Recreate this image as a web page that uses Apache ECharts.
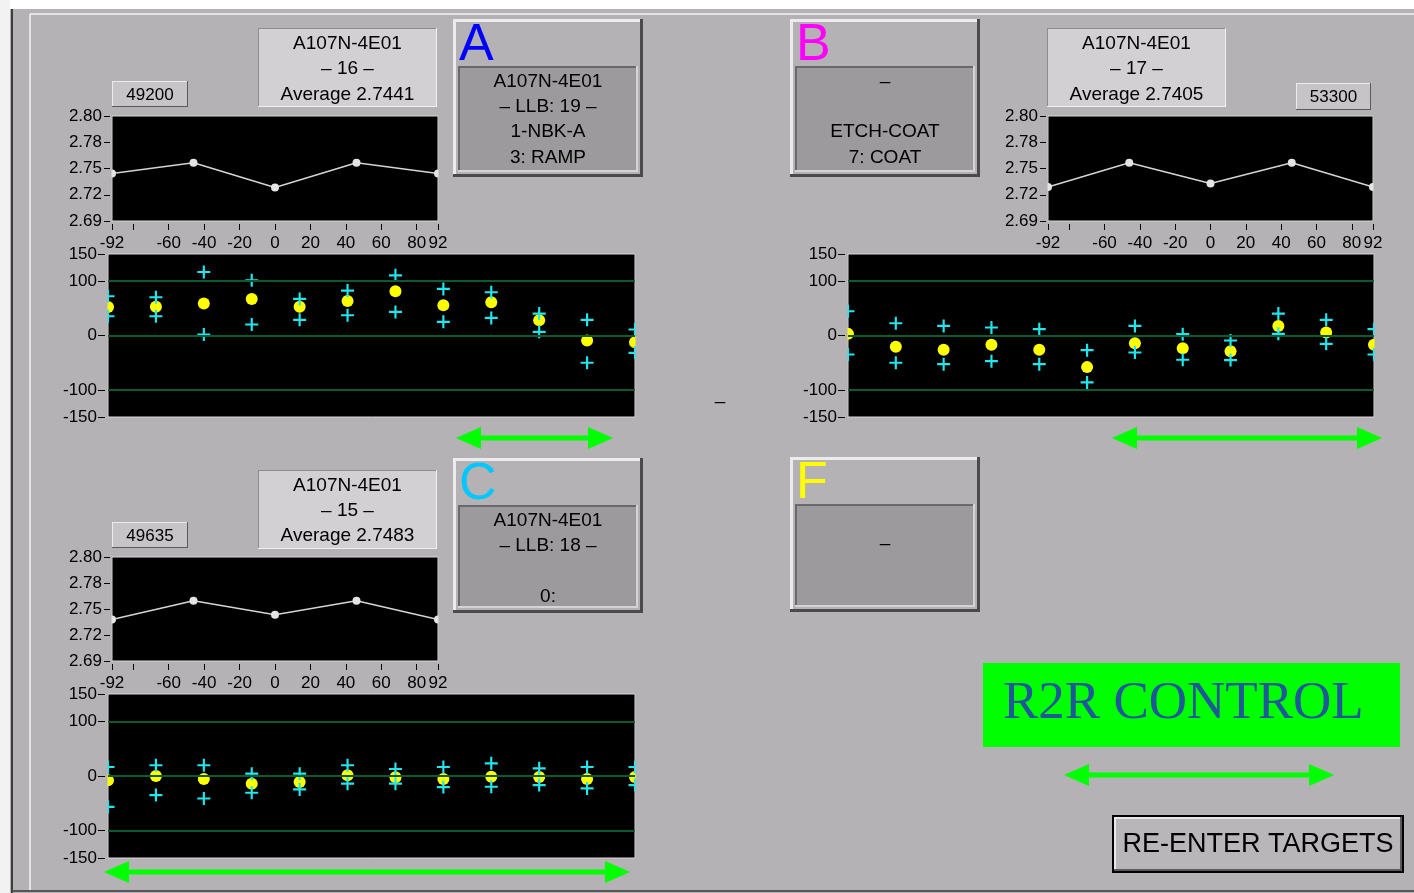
<!DOCTYPE html>
<html><head><meta charset="utf-8">
<script src="https://cdn.jsdelivr.net/npm/echarts@6/dist/echarts.min.js"></script>
<style>html,body{margin:0;padding:0;background:#b4b2b4;overflow:hidden}#c{width:1414px;height:893px}</style>
</head><body><div id="c"></div>
<script>
// ---------- data ----------
const lineX = [-92, -46, 0, 46, 92];
const lineA = [2.7398, 2.7510, 2.7251, 2.7510, 2.7398];
const lineB = [2.7257, 2.7510, 2.7293, 2.7510, 2.7257];
const lineC = [2.7340, 2.7538, 2.7389, 2.7538, 2.7340];

const lineYTicks = [2.69, 2.7175, 2.745, 2.7725, 2.80];
const lineYLabels = ['2.69', '2.72', '2.75', '2.78', '2.80'];
const lineXTicks = [-92, -80, -60, -40, -20, 0, 20, 40, 60, 80, 92];
const lineXLabels = ['-92', '', '-60', '-40', '-20', '0', '20', '40', '60', '80', '92'];

const runIndex = [1, 2, 3, 4, 5, 6, 7, 8, 9, 10, 11, 12];
const meanA  = [52.6, 53, 58.8, 67.3, 53, 63.7, 81.4, 55.7, 61.2, 28.1, -9.2, -12.3];
const upperA = [72.2, 70.4, 116.9, 101.6, 67.3, 82.6, 110.8, 85.7, 79.6, 40.4, 28.8, 11];
const lowerA = [35.5, 35.5, 1.8, 20.2, 28.8, 37.3, 43.4, 25.1, 32.4, 6.7, -50.2, -31.9];

const meanB  = [3, -20.9, -26.4, -17.2, -26.4, -58.2, -14.1, -23.3, -28.8, 17.7, 5.5, -17.2];
const upperB = [44.7, 22.6, 17.7, 14.7, 11.6, -27, 17.7, 2.4, -9.2, 40.4, 28.8, 11.6];
const lowerB = [-34.9, -50.2, -52.7, -47.2, -52.7, -86.4, -31.3, -44.7, -45.3, 3, -15.3, -34.9];

const meanC  = [-8, 0, -5.5, -14.1, -11, 1.2, -2.5, -5.5, -1.3, -1.9, -5.5, -1.9];
const upperC = [16.5, 19.6, 19.6, 4.3, 4.3, 19.6, 12.8, 16.5, 23.2, 14.1, 16.5, 16.5];
const lowerC = [-56.4, -34.9, -41.1, -30.6, -24.5, -14.1, -14.1, -20.2, -19.6, -16.6, -22.7, -16.6];

const scatterYTicks = [-150, -100, 0, 100, 150];
const scatterYLabels = ['-150', '-100', '0', '100', '150'];
const scatterGuideLines = [100, 0, -100];

// ---------- helpers ----------
const FONT = '"Liberation Sans", Arial, sans-serif';
const BG = '#b4b2b4';
function lab(ticks, labels) {
  return v => { for (let i = 0; i < ticks.length; i++) if (Math.abs(ticks[i] - v) < 1e-6) return labels[i]; return ''; };
}
const CROSS = 'path://M5,0H7V5H12V7H7V12H5V7H0V5H5Z';

const gridPos = [
  {left: 112, top: 116, width: 326, height: 105},
  {left: 108, top: 254, width: 527, height: 163},
  {left: 1048, top: 116, width: 325, height: 105},
  {left: 848, top: 254, width: 526, height: 163},
  {left: 112, top: 557, width: 326, height: 104},
  {left: 108, top: 694, width: 527, height: 164}
];
const grid = gridPos.map(g => Object.assign({show: true, backgroundColor: '#000', borderColor: '#d8d8d8', borderWidth: 1, containLabel: false}, g));

const panels = [
  {line: lineA, mean: meanA, up: upperA, lo: lowerA},
  {line: lineB, mean: meanB, up: upperB, lo: lowerB},
  {line: lineC, mean: meanC, up: upperC, lo: lowerC}
];

const tickLabelStyle = {color: '#000', fontSize: 17, fontFamily: FONT};
const xAxis = [], yAxis = [], series = [];
panels.forEach((p, k) => {
  const gl = 2 * k, gs = 2 * k + 1;
  xAxis.push({
    gridIndex: gl, type: 'value', min: -92, max: 92, offset: 3, z: 10,
    axisLine: {show: false, onZero: false}, splitLine: {show: false},
    axisTick: {show: true, customValues: lineXTicks, length: 6, lineStyle: {color: '#000', width: 1}},
    axisLabel: Object.assign({show: true, customValues: lineXTicks.filter((t, i) => lineXLabels[i] !== ''),
      formatter: lab(lineXTicks, lineXLabels), margin: 11}, tickLabelStyle)
  });
  yAxis.push({
    gridIndex: gl, type: 'value', min: 2.69, max: 2.80, offset: 2, z: 10,
    axisLine: {show: false, onZero: false}, splitLine: {show: false},
    axisTick: {show: true, customValues: lineYTicks, length: 6, lineStyle: {color: '#000', width: 1}},
    axisLabel: Object.assign({show: true, customValues: lineYTicks, formatter: lab(lineYTicks, lineYLabels), margin: 8}, tickLabelStyle)
  });
  xAxis.push({gridIndex: gs, type: 'value', min: 1, max: 12, show: false, axisLine: {onZero: false}});
  yAxis.push({
    gridIndex: gs, type: 'value', min: -150, max: 150, offset: 3, z: 10,
    axisLine: {show: false, onZero: false}, splitLine: {show: false},
    axisTick: {show: true, customValues: scatterYTicks, length: 7, lineStyle: {color: '#000', width: 1}},
    axisLabel: Object.assign({show: true, customValues: scatterYTicks, formatter: lab(scatterYTicks, scatterYLabels), margin: 8}, tickLabelStyle)
  });
  const lineData = lineX.map((x, i) => [x, p.line[i]]);
  series.push({type: 'line', xAxisIndex: gl, yAxisIndex: gl, data: lineData, showSymbol: false,
    lineStyle: {color: '#d4d4d4', width: 1.5}, silent: true, z: 2});
  series.push({type: 'scatter', xAxisIndex: gl, yAxisIndex: gl, data: lineData, symbol: 'circle', symbolSize: 8,
    itemStyle: {color: '#e4e4e4', opacity: 1}, silent: true, z: 3});
  series.push({type: 'scatter', xAxisIndex: gs, yAxisIndex: gs, data: runIndex.map((x, i) => [x, p.mean[i]]),
    symbol: 'circle', symbolSize: 12, itemStyle: {color: '#ffff00', opacity: 1}, silent: true, z: 3,
    markLine: {silent: true, symbol: ['none', 'none'], label: {show: false}, animation: false,
      lineStyle: {color: '#0c5a30', width: 2, type: 'solid', opacity: 1}, data: scatterGuideLines.map(v => ({yAxis: v}))}});
  series.push({type: 'scatter', xAxisIndex: gs, yAxisIndex: gs, data: runIndex.map((x, i) => [x, p.up[i]]),
    symbol: CROSS, symbolSize: 13, itemStyle: {color: '#22e6ee', opacity: 1}, silent: true, z: 4});
  series.push({type: 'scatter', xAxisIndex: gs, yAxisIndex: gs, data: runIndex.map((x, i) => [x, p.lo[i]]),
    symbol: CROSS, symbolSize: 13, itemStyle: {color: '#22e6ee', opacity: 1}, silent: true, z: 4});
});

// ---------- decorations ----------
const G = [];
function rect(x, y, w, h, fill, z) { G.push({type: 'rect', shape: {x, y, width: w, height: h}, style: {fill}, silent: true, z: z || 0}); }
function ln(x1, y1, x2, y2, c, w) { G.push({type: 'line', shape: {x1, y1, x2, y2}, style: {stroke: c, lineWidth: w}, silent: true}); }
function bevel(x, y, w, h, tl, br, t) {
  ln(x, y + t / 2, x + w, y + t / 2, tl, t);
  ln(x + t / 2, y, x + t / 2, y + h, tl, t);
  ln(x, y + h - t / 2, x + w, y + h - t / 2, br, t);
  ln(x + w - t / 2, y, x + w - t / 2, y + h, br, t);
}
function txt(s, x, y, font, fill, align) {
  G.push({type: 'text', x, y, silent: true,
    style: {text: s, font, fill: fill || '#000', textAlign: align || 'center', textVerticalAlign: 'middle', align: align || 'center', verticalAlign: 'middle'}});
}
function arrow(x1, x2, y) {
  G.push({type: 'rect', shape: {x: x1 + 20, y: y - 2.5, width: x2 - x1 - 40, height: 5}, style: {fill: '#00ff00'}, silent: true});
  G.push({type: 'polygon', shape: {points: [[x1, y], [x1 + 25, y - 11], [x1 + 25, y + 11]]}, style: {fill: '#00ff00'}, silent: true});
  G.push({type: 'polygon', shape: {points: [[x2, y], [x2 - 25, y - 11], [x2 - 25, y + 11]]}, style: {fill: '#00ff00'}, silent: true});
}
const BOXF = '19px ' + FONT;

// page frame
rect(0, 0, 1414, 9, '#ffffff');
rect(0, 0, 10, 893, '#f2f2f2');
ln(12, 9, 12, 893, '#3c3c3c', 2);
ln(30, 14, 30, 890, '#e4e4e4', 2);
ln(30, 14, 1414, 14, '#e4e4e4', 2);
ln(12, 891, 1414, 891, '#555555', 2);

// edge masks: markers at the plot edges are cut by the plot frame
gridPos.forEach(g => {
  rect(g.left - 8, g.top - 1, 7.5, g.height + 2, BG, 5);
  rect(g.left + g.width + 0.5, g.top - 1, 7.5, g.height + 2, BG, 5);
});

function infoBox(x, y, w, h, lines, ys) {
  rect(x, y, w, h, '#d2d0d2');
  bevel(x, y, w, h, '#8e8c8e', '#f0f0f0', 1);
  lines.forEach((s, i) => txt(s, x + w / 2, ys[i], BOXF));
}
function valBox(x, y, w, h, s) {
  rect(x, y, w, h, '#c6c4c6');
  bevel(x, y, w, h, '#ececec', '#5a5a5a', 1);
  txt(s, x + w / 2, y + h / 2 + 1, '17px ' + FONT);
}
function stationBox(x, y, w, h, letter, color, lines, ys) {
  bevel(x, y, w, h, '#ececec', '#4a4a4a', 3);
  txt(letter, x + 6, y + 27, '52px ' + FONT, color, 'left');
  const ix = x + 5, iy = y + 47, iw = w - 10, ih = h - 52;
  rect(ix, iy, iw, ih, '#9c9a9c');
  bevel(ix, iy, iw, ih, '#6a686a', '#d4d4d4', 2);
  lines.forEach((s, i) => txt(s, x + w / 2, ys[i], BOXF));
}

infoBox(258, 28, 179, 79, ['A107N-4E01', '– 16 –', 'Average 2.7441'], [44, 69, 95]);
valBox(112, 81, 76, 26, '49200');
infoBox(1047, 28, 179, 79, ['A107N-4E01', '– 17 –', 'Average 2.7405'], [44, 69, 95]);
valBox(1296, 83, 75, 27, '53300');
infoBox(258, 470, 179, 79, ['A107N-4E01', '– 15 –', 'Average 2.7483'], [486, 511, 536]);
valBox(112, 522, 76, 26, '49635');

stationBox(453, 19, 190, 158, 'A', '#0000ff', ['A107N-4E01', '– LLB: 19 –', '1-NBK-A', '3: RAMP'], [82, 107, 132, 158]);
stationBox(790, 19, 190, 158, 'B', '#ff00ff', ['–', 'ETCH-COAT', '7: COAT'], [82, 132, 158]);
stationBox(453, 458, 190, 155, 'C', '#00c8ff', ['A107N-4E01', '– LLB: 18 –', '0:'], [521, 546, 597]);
stationBox(790, 457, 190, 155, 'F', '#ffff00', ['–'], [544]);

txt('–', 720, 402, BOXF);

arrow(456, 613, 438);
arrow(1112, 1382, 438);
arrow(104, 630, 872);
arrow(1064, 1334, 775);

rect(983, 663, 417, 84, '#00ff00');
txt('R2R CONTROL', 1003, 704, '53px "Liberation Serif", "Times New Roman", serif', '#1f5799', 'left');

rect(1112, 815, 292, 58, '#000000');
rect(1114, 817, 288, 54, '#b8b6b8');
bevel(1114, 817, 288, 54, '#e8e8e8', '#5a5a5a', 2);
txt('RE-ENTER TARGETS', 1258, 845, '27px ' + FONT);

const chart = echarts.init(document.getElementById('c'), null, {renderer: 'canvas', width: 1414, height: 893});
chart.setOption({
  animation: false,
  backgroundColor: BG,
  grid, xAxis, yAxis, series,
  graphic: {elements: G}
});
</script>
</body></html>
